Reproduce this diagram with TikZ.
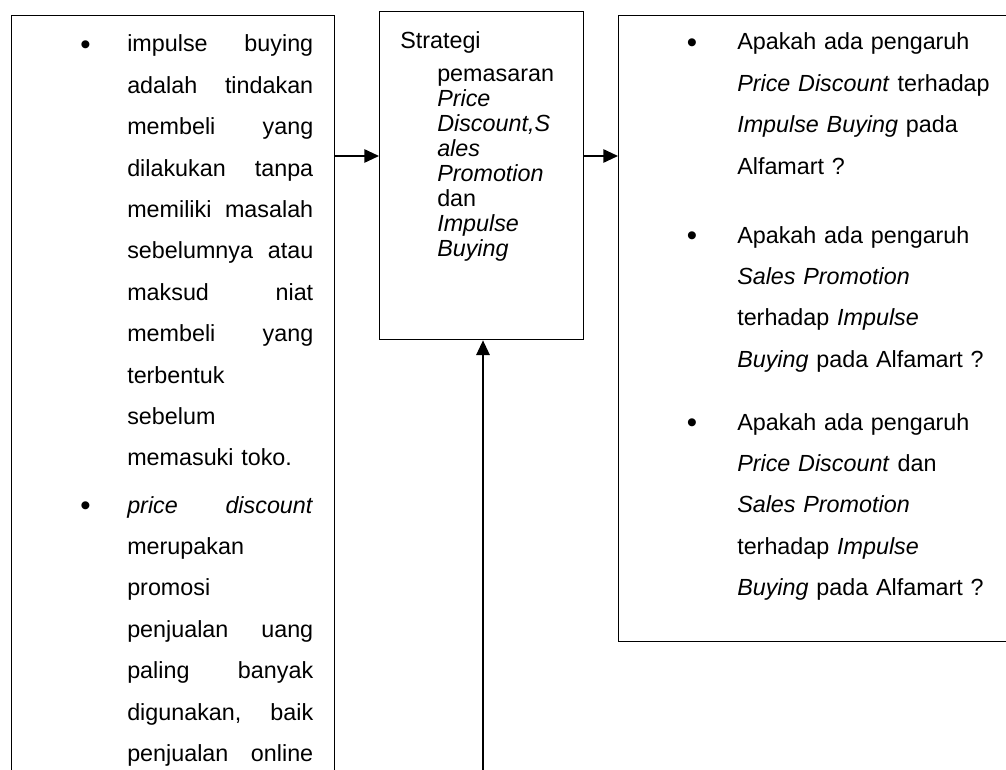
\documentclass[tikz,border=0pt]{standalone}
\usepackage{fontspec}
\setmainfont{Liberation Sans}
\usetikzlibrary{arrows.meta, positioning}

\begin{document}
\begin{tikzpicture}[
    x=0.75pt, y=-0.75pt,
    box/.style={draw, line width=1pt, inner sep=0pt, anchor=north west},
    txt/.style={inner sep=0pt, anchor=base west, align=left, text width=200pt, font=\fontsize{17.5}{31.05}\selectfont},
    bul/.style={inner sep=0pt, anchor=base, yshift=-1.8pt, font=\fontsize{22}{22}\selectfont},
    ar/.style={-{Triangle[length=11pt, width=10pt]}, line width=1.3pt}
]
\useasboundingbox (0,0) rectangle (1006,770);
% the three boxes
\node[box, minimum width=242.25pt, minimum height=663.75pt] (teori) at (11,15) {};
\node[box, minimum width=153pt, minimum height=246pt] (strategi) at (379,11) {};
\node[box, minimum width=337.5pt, minimum height=469.5pt] (masalah) at (618,15) {};
% left box: bullet points
\node[bul] (tb1) at (85.5,52) {\textbullet};
\node[txt, text width=139.5pt] (tt1) at (127,52) {impulse\hfill buying\\ adalah\hfill tindakan\\ membeli\hfill yang\\ dilakukan\hfill tanpa\\ memiliki\hfill masalah\\ sebelumnya\hfill atau\\ maksud\hfill niat\\ membeli\hfill yang\\ terbentuk\\ sebelum\\ memasuki toko.};
\node[bul] (tb2) at (85.5,513) {\textbullet};
\node[txt, text width=139.5pt] (tt2) at (127,513) {\textit{price}\hfill \textit{discount}\\ merupakan\\ promosi\\ penjualan\hfill uang\\ paling\hfill banyak\\ digunakan,\hfill baik\\ penjualan\hfill online};
% middle box
\node[txt, text width=110pt, font=\fontsize{17.5}{18.75}\selectfont] (st0) at (400,49) {Strategi};
\node[txt, text width=100pt, font=\fontsize{17.5}{18.75}\selectfont] (st1) at (437,82) {pemasaran\\ \textit{Price}\\ \textit{Discount,S}\\ \textit{ales}\\ \textit{Promotion}\\ dan\\ \textit{Impulse}\\ \textit{Buying}};
% right box: research questions
\node[bul] (mb1) at (692,50) {\textbullet};
\node[txt] (mt1) at (737,50) {Apakah ada pengaruh\\ \textit{Price Discount} terhadap\\ \textit{Impulse Buying} pada\\ Alfamart ?};
\node[bul] (mb2) at (692,243) {\textbullet};
\node[txt] (mt2) at (737,243) {Apakah ada pengaruh\\ \textit{Sales Promotion}\\ terhadap \textit{Impulse}\\ \textit{Buying} pada Alfamart ?};
\node[bul] (mb3) at (692,430) {\textbullet};
\node[txt] (mt3) at (737,430) {Apakah ada pengaruh\\ \textit{Price Discount} dan\\ \textit{Sales Promotion}\\ terhadap \textit{Impulse}\\ \textit{Buying} pada Alfamart ?};
% arrows
\coordinate (lvl) at (0,156);
\coordinate (src) at (483,790);
\draw[ar] (teori.east |- lvl) -- (strategi.west |- lvl);
\draw[ar] (strategi.east |- lvl) -- (masalah.west |- lvl);
\draw[ar] (src) -- (src |- strategi.south);
\end{tikzpicture}
\end{document}
